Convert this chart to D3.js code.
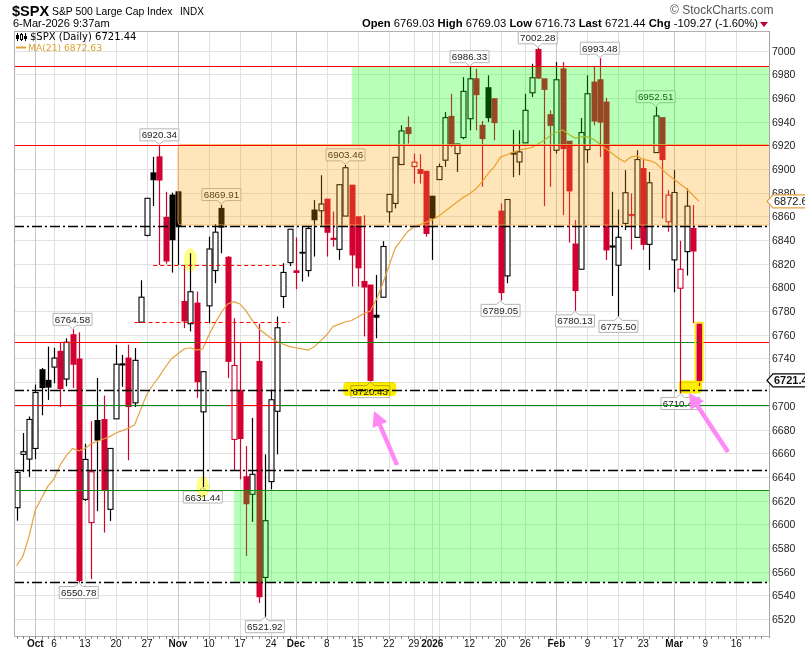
<!DOCTYPE html>
<html><head><meta charset="utf-8">
<script src="https://cdn.jsdelivr.net/npm/d3@7"></script>
<style>
body{margin:0;background:#fff;}
svg{display:block;font-family:"Liberation Sans",Arial,sans-serif;}
</style></head><body>
<svg id="c" width="805" height="649"></svg>
<script>
// ---------------- DATA ----------------
const dates = ["2025-09-26","2025-09-29","2025-09-30","2025-10-01","2025-10-02","2025-10-03","2025-10-06","2025-10-07","2025-10-08","2025-10-09",
"2025-10-10","2025-10-13","2025-10-14","2025-10-15","2025-10-16","2025-10-17","2025-10-20","2025-10-21","2025-10-22","2025-10-23",
"2025-10-24","2025-10-27","2025-10-28","2025-10-29","2025-10-30","2025-10-31","2025-11-03","2025-11-04","2025-11-05","2025-11-06",
"2025-11-07","2025-11-10","2025-11-11","2025-11-12","2025-11-13","2025-11-14","2025-11-17","2025-11-18","2025-11-19","2025-11-20",
"2025-11-21","2025-11-24","2025-11-25","2025-11-26","2025-11-28","2025-12-01","2025-12-02","2025-12-03","2025-12-04","2025-12-05",
"2025-12-08","2025-12-09","2025-12-10","2025-12-11","2025-12-12","2025-12-15","2025-12-16","2025-12-17","2025-12-18","2025-12-19",
"2025-12-22","2025-12-23","2025-12-24","2025-12-26","2025-12-29","2025-12-30","2025-12-31","2026-01-02","2026-01-05","2026-01-06",
"2026-01-07","2026-01-08","2026-01-09","2026-01-12","2026-01-13","2026-01-14","2026-01-15","2026-01-16","2026-01-20","2026-01-21",
"2026-01-22","2026-01-23","2026-01-26","2026-01-27","2026-01-28","2026-01-29","2026-01-30","2026-02-02","2026-02-03","2026-02-04",
"2026-02-05","2026-02-06","2026-02-09","2026-02-10","2026-02-11","2026-02-12","2026-02-13","2026-02-17","2026-02-18","2026-02-19",
"2026-02-20","2026-02-23","2026-02-24","2026-02-25","2026-02-26","2026-02-27","2026-03-02","2026-03-03","2026-03-04","2026-03-05",
"2026-03-06"];
const futureDates = ["2026-03-09","2026-03-10","2026-03-11","2026-03-12","2026-03-13","2026-03-16","2026-03-17","2026-03-18","2026-03-19","2026-03-20"];

const opens = [6614,6659,6655,6664,6730.5,6721.5,6732.7,6746,6722.6,6760,
6739.5,6621,6601.4,6687.6,6688.4,6612.6,6689,6734.5,6740.3,6702.5,
6770.6,6843.9,6896.7,6910.2,6859.1,6877.9,6880.7,6788.1,6769.3,6786.7,
6694.9,6784.4,6814.2,6866.7,6825.4,6671.6,6713.1,6640.1,6625.3,6737.5,
6555.1,6636,6695.4,6792.3,6820.9,6814,6829.6,6814.2,6865.3,6864.7,
6874.5,6841.5,6832.1,6860.2,6886.3,6859.6,6805,6802,6776.5,6791.7,
6863.8,6870.9,6903.7,6934.9,6902,6899.5,6898,6877,6891,6907.4,
6944.4,6913,6926.5,6942.4,6976.1,6936.8,6968.6,6959.3,6864.4,6809.7,
6913.5,6905.9,6922,6964.3,7000.8,6976.1,6945.8,6915.8,6984.5,6923.4,
6836.6,6815.3,6916.3,6973.3,6975.3,6956.5,6835,6818.7,6854,6861.5,
6842.2,6900.3,6836.3,6913.8,6943.3,6855.4,6823.2,6799.3,6830.2,6849.8,
6769.03];
const highs = [6645,6677,6691,6718,6732,6750,6749,6753.5,6757,6764.58,
6762,6668,6687,6723.5,6708.6,6664,6751.6,6743,6751.6,6748.8,
6806,6875.2,6910.2,6920.34,6880.7,6880,6881,6818.9,6828.8,6796.5,
6729,6842.8,6853.5,6869.91,6826.5,6774,6753,6666,6689.8,6769.3,
6659,6713.7,6775.4,6820.4,6849.1,6842.2,6851.8,6851.2,6873.7,6894.7,
6874.5,6864,6886.7,6903.46,6886.3,6859.6,6861,6802,6810.5,6839,
6878.5,6910,6936.8,6944.4,6913,6912.4,6898,6877,6904.6,6948,
6963.5,6921.4,6977.5,6986.33,6984.5,6940.5,6979,6959.3,6870.9,6874.2,
6933,6932.6,6963.5,6988.8,7002.28,6976.1,6949.5,6990.2,6990.2,6923.4,
6856.8,6943,6979,6986.5,6993.48,6960,6880.7,6865.8,6899,6879.3,
6915.8,6908.8,6897.5,6952.51,6943.3,6882,6899,6839.4,6883.5,6869.5,
6769.03];
const lows = [6603,6644,6640,6655,6692,6705,6719,6699,6716.5,6715,
6550.78,6619.6,6553.7,6611,6593,6602.8,6689,6716,6654,6699,
6770.6,6843,6868.6,6818.9,6820,6812.5,6819,6765.6,6762.8,6706.7,
6631.44,6769.8,6803.5,6828.8,6723.5,6645,6637.9,6573.3,6602,6533.5,
6521.92,6629.5,6659,6782.5,6818,6798.5,6804.9,6809.1,6826,6851.2,
6826,6834.4,6823.2,6860.2,6800.7,6800.7,6758.6,6720.43,6757,6791.7,
6854.6,6866.7,6903.7,6921.4,6887.7,6887.7,6842.8,6823.2,6891,6901.7,
6918.6,6897.5,6925,6932.6,6932.6,6884.9,6939.6,6924.2,6789.05,6803.5,
6893,6894.7,6922,6960.7,6976,6868.6,6884.9,6913,6861,6837.8,
6780.13,6815.3,6905.1,6936.8,6910,6823.2,6792.8,6775.5,6848.4,6832,
6842.2,6831.6,6814.7,6913.8,6858,6847,6795.9,6710.41,6810,6769.8,
6716.73];
const closes = [6643.7,6661.2,6688.5,6711.2,6715.4,6715.8,6740.3,6714.6,6753.7,6735.1,
6552.5,6654.7,6644.3,6671.1,6629.1,6664.0,6735.1,6735.4,6699.4,6738.4,
6791.7,6875.2,6890.9,6890.6,6822.3,6840.2,6852.0,6771.6,6796.3,6720.3,
6728.8,6832.4,6846.6,6850.9,6737.5,6734.1,6672.4,6617.3,6642.2,6538.8,
6603.0,6705.1,6765.9,6812.6,6849.1,6812.6,6829.4,6849.7,6857.1,6870.4,
6846.5,6840.5,6886.7,6901.0,6827.4,6816.5,6800.3,6721.4,6774.8,6834.5,
6878.5,6909.8,6932.1,6929.9,6905.7,6896.2,6845.5,6858.5,6902,6943.3,
6920,6921,6965.5,6976.1,6962.7,6925.6,6943.3,6939.1,6795.6,6874.2,
6912.5,6914.4,6949.5,6977,6976.7,6967.2,6936.8,6975.3,6917.2,6881.5,
6797.3,6930.7,6963.5,6940.5,6939.5,6831.6,6834,6842.3,6879.9,6860.8,
6907.9,6836.3,6888.3,6944.7,6907.9,6877.9,6880.1,6815.3,6868.6,6830.71,
6721.44];
const ma21 = [6565,6573,6590,6612,6622,6632,6638,6650,6658,6664,
6662,6664,6668,6670,6672,6674,6677,6679,6681,6684,
6697,6710,6718,6725,6733,6740,6744,6748,6749,6747,
6748,6760,6770,6779,6786,6788,6786,6780,6772,6765,
6761,6757,6754,6752,6750,6749,6748,6747,6750,6755,
6760,6767,6769,6771,6772,6775,6778,6780,6790,6803,
6818,6833,6840,6847,6851,6853,6855,6857,6860,6864,
6868,6872,6876,6879,6883,6889,6896,6902,6910,6912,
6914,6916,6917,6918,6921,6924,6928,6931,6933,6929,
6926,6927,6927,6925,6921,6917,6913,6909,6906,6910,
6911,6908,6907,6905,6900,6895,6891,6887,6883,6878,
6872.63];

const tickDates  = ["2025-10-01","2025-10-06","2025-10-13","2025-10-20","2025-10-27","2025-11-03","2025-11-10","2025-11-17","2025-11-24","2025-12-01","2025-12-08","2025-12-15","2025-12-22","2025-12-29","2026-01-02","2026-01-12","2026-01-20","2026-01-26","2026-02-02","2026-02-09","2026-02-17","2026-02-23","2026-03-02","2026-03-09","2026-03-16"];
const tickLabels = ["Oct","6","13","20","27","Nov","10","17","24","Dec","8","15","22","29","2026","12","20","26","Feb","9","17","23","Mar","9","16"];
const yTicks = d3.range(6520, 7001, 20);

// annotated highs / lows (callouts)
const calloutDates = ["2025-10-09","2025-10-29","2025-11-12","2025-12-11","2026-01-12","2026-01-28","2026-02-11","2026-02-25",
                      "2025-10-10","2025-11-07","2025-11-21","2025-12-17","2026-01-20","2026-02-05","2026-02-17","2026-03-03"];
const calloutSide  = ["h","h","h","h","h","h","h","h","l","l","l","l","l","l","l","l"];

// drawn zones & levels
const zoneStart  = ["2025-11-03","2025-12-12","2025-11-14"];
const zoneTop    = [6920.6, 6986.5, 6628.6];
const zoneBottom = [6852.6, 6920.6, 6551.0];
const redLevels      = [6986.5, 6920.6];
const dashDotLevels  = [6851.5, 6713.7, 6645.5, 6551.0];

const last = {open:6769.03, high:6769.03, low:6716.73, last:6721.44, chg:"-109.27 (-1.60%)"};

// ---------------- SETUP ----------------
const svg = d3.select("#c");
const L=14, R=769, T=31, B=636;
const RED="#d10030", BLK="#000";
const allDates = dates.concat(futureDates);
const x = d3.scalePoint().domain(allDates).range([16.7, 761.1]);
const y = d3.scaleLinear().domain([6520,7000]).range([619, 50.5]);
const idx = d => dates.indexOf(d);

svg.append("defs").append("clipPath").attr("id","plot")
  .append("rect").attr("x",L).attr("y",T).attr("width",R-L).attr("height",B-T);

svg.append("rect").attr("x",L).attr("y",T).attr("width",R-L).attr("height",B-T).attr("fill","#fff");

const g = svg.append("g").attr("clip-path","url(#plot)");

// grid
g.selectAll(".hg").data(yTicks).join("line")
  .attr("x1",L).attr("x2",R).attr("y1",d=>Math.round(y(d))+0.5).attr("y2",d=>Math.round(y(d))+0.5)
  .attr("stroke","#e2e2e2");
const vgrid = tickDates.concat(["2026-01-05"]);
g.selectAll(".vg").data(vgrid).join("line")
  .attr("x1",d=>Math.round(x(d))+0.5).attr("x2",d=>Math.round(x(d))+0.5).attr("y1",T).attr("y2",B)
  .attr("stroke",(d,i)=> (i<tickLabels.length && isNaN(+tickLabels[i])) ? "#c8c8c8" : "#e0e0e0");

// candles
const cdata = dates.map((d,i)=>({d,o:opens[i],h:highs[i],l:lows[i],c:closes[i],pc:i>0?closes[i-1]:-Infinity}));
const cg = g.append("g");
cdata.forEach(k=>{
  const col = k.c >= k.pc ? BLK : RED;
  const cx = Math.round(x(k.d))+0.5;
  cg.append("line").attr("x1",cx).attr("x2",cx).attr("y1",y(k.h)).attr("y2",y(k.l)).attr("stroke",col).attr("stroke-width",1.2);
  const top = y(Math.max(k.o,k.c)), bot = y(Math.min(k.o,k.c));
  if (k.c > k.o) {
    cg.append("rect").attr("x",cx-2.5).attr("y",top).attr("width",5).attr("height",Math.max(1,bot-top))
      .attr("fill","#fff").attr("stroke",col).attr("stroke-width",1.1);
  } else {
    cg.append("rect").attr("x",cx-3).attr("y",top-0.5).attr("width",6).attr("height",Math.max(1.8,bot-top+1))
      .attr("fill",col);
  }
});

// MA line
g.append("path").datum(ma21).attr("fill","none").attr("stroke","#e4a23c").attr("stroke-width",1.2)
  .attr("d", d3.line().x((v,i)=>x(dates[i])).y(v=>y(v)));

// callouts
const cog = g.append("g").attr("font-size","9.8px").attr("fill","#222");
calloutDates.forEach((d,j)=>{
  const i = idx(d), cx = x(d);
  const hi = calloutSide[j]==="h";
  const v = hi ? highs[i] : lows[i];
  const txt = v.toFixed(2);
  const w = 39, h = 12;
  const x0 = cx - w/2, x1 = cx + w/2;
  let p;
  if (hi) {
    const yb = y(v) - 4, yt = yb - h;
    p = `M${x0},${yt}H${x1}V${yb}H${cx+4}L${cx},${yb+3.5}L${cx-4},${yb}H${x0}Z`;
    cog.append("path").attr("d",p).attr("fill","#fff").attr("fill-opacity",0.9).attr("stroke","#b5b5b5");
    cog.append("text").attr("x",cx).attr("y",yb-2.5).attr("text-anchor","middle").text(txt);
  } else {
    const yt = y(v) + 4, yb = yt + h;
    p = `M${x0},${yt}H${cx-4}L${cx},${yt-3.5}L${cx+4},${yt}H${x1}V${yb}H${x0}Z`;
    cog.append("path").attr("d",p).attr("fill","#fff").attr("fill-opacity",0.9).attr("stroke","#b5b5b5");
    cog.append("text").attr("x",cx).attr("y",yb-2.5).attr("text-anchor","middle").text(txt);
  }
});

// zones
const zoneFill = ["#ffa000","#00ff00","#00ff00"];
const zoneOp = [0.27,0.28,0.28];
zoneStart.forEach((d,i)=>{
  g.append("rect").attr("x",x(d)).attr("y",y(zoneTop[i])).attr("width",R-x(d)+2)
    .attr("height",y(zoneBottom[i])-y(zoneTop[i])).attr("fill",zoneFill[i]).attr("fill-opacity",zoneOp[i])
    .attr("stroke",i===0?"#f0b060":"none").attr("stroke-opacity",0.8).attr("rx",i===0?3:0);
});

// level lines
function hline(p, xa, xb, col, dash, w){
  g.append("line").attr("x1",xa).attr("x2",xb).attr("y1",Math.round(y(p))+0.5).attr("y2",Math.round(y(p))+0.5)
    .attr("stroke",col).attr("stroke-width",w||1.2).attr("stroke-dasharray",dash||null);
}
const GRN="#118811";
redLevels.forEach(p=>hline(p,L,R,"#ff0000"));
dashDotLevels.forEach(p=>hline(p,L,R,"#000","10,3,2,3",1.3));
hline(6818.5, x("2025-10-28"), x("2025-11-26"), "#ff0000", "4,3");
hline(6770.7, x("2025-10-23"), x("2025-11-28"), "#ff0000", "4,3");
hline(6754, L, x("2025-10-24"), "#ff0000");
hline(6754, x("2025-10-24"), x("2026-03-06"), GRN);
hline(6754, x("2025-11-06"), x("2025-11-25"), "#ff0000");
hline(6754, x("2026-03-06"), R, "#ff0000");
hline(6701, L, x("2025-10-10"), "#ff0000");
hline(6701, x("2025-10-10"), R, GRN);
hline(6701, x("2025-11-13"), x("2025-11-25"), "#ff0000");
hline(6628.6, L, R, GRN);

// yellow highlights
const hl = g.append("g").style("mix-blend-mode","multiply");
hl.append("ellipse").attr("cx",x("2025-11-05")).attr("cy",y(6823)).attr("rx",6.5).attr("ry",12).attr("fill","#ffff70").attr("opacity",0.85);
hl.append("ellipse").attr("cx",x("2025-11-07")).attr("cy",y(lows[30])).attr("rx",6.5).attr("ry",11).attr("fill","#ffff70").attr("opacity",0.85);
const d17 = x("2025-12-17");
hl.append("rect").attr("x",d17-27).attr("y",y(lows[57])+0.5).attr("width",53).attr("height",14).attr("rx",4).attr("fill","#ffee00");
const m3 = x("2026-03-03"), m6 = x("2026-03-06");
hl.append("rect").attr("x",m3-1.5).attr("y",y(closes[110])).attr("width",m6-m3+4.5).attr("height",13).attr("rx",4).attr("fill","#ffee00");
g.append("rect").attr("x",m6-3.8).attr("y",y(opens[110])-1.5).attr("width",7.6).attr("height",y(closes[110])-y(opens[110])+3)
  .attr("fill","none").attr("stroke","#ffe800").attr("stroke-width",1.5);

// pink arrows
function arrow(tx,ty,px,py){
  const dx=px-tx, dy=py-ty, len=Math.hypot(dx,dy), ux=dx/len, uy=dy/len, nx=-uy, ny=ux;
  const sw=2.2, hw=8, hlen=15;
  const bx=px-ux*hlen, by=py-uy*hlen;
  const pts=[[tx+nx*sw,ty+ny*sw],[bx+nx*sw,by+ny*sw],[bx+nx*hw,by+ny*hw],[px,py],[bx-nx*hw,by-ny*hw],[bx-nx*sw,by-ny*sw],[tx-nx*sw,ty-ny*sw]];
  svg.append("polygon").attr("points",pts.map(p=>p.join(",")).join(" ")).attr("fill","#ff88f4");
}
arrow(397,465,374,411);
arrow(728,452,689,393);

// plot border
svg.append("rect").attr("x",L+0.5).attr("y",T+0.5).attr("width",R-L).attr("height",B-T)
  .attr("fill","none").attr("stroke","#b0b0b0");
svg.append("line").attr("x1",R+0.5).attr("x2",R+0.5).attr("y1",T).attr("y2",B+3).attr("stroke","#999").attr("stroke-dasharray","1,1");

// day ticks
svg.selectAll(".dt").data(allDates).join("line")
  .attr("x1",d=>Math.round(x(d))+0.5).attr("x2",d=>Math.round(x(d))+0.5).attr("y1",B).attr("y2",B+3).attr("stroke","#888");

// y axis labels
svg.append("g").attr("font-size","10.5px").attr("fill","#222").selectAll("text").data(yTicks).join("text")
  .attr("x",772).attr("y",d=>y(d)+4).text(d=>d);

// x axis labels
svg.append("g").attr("font-size","10px").attr("fill","#111").selectAll("text").data(tickDates).join("text")
  .attr("x",d=>x(d)).attr("y",647).attr("text-anchor","middle")
  .attr("font-weight",(d,i)=>isNaN(+tickLabels[i]) || tickLabels[i]==="2026" ? "bold":"normal")
  .text((d,i)=>tickLabels[i]);

// right tags (drawn over the axis labels, as in the original)
function tag(v, txt, stroke, bold){
  const yc=y(v);
  svg.append("path").attr("d",`M767,${yc}L773,${yc-6.5}H806V${yc+6.5}H773Z`).attr("fill","#fff").attr("stroke",stroke).attr("stroke-width",1.2);
  svg.append("text").attr("x",774).attr("y",yc+4).attr("font-size","11px").attr("font-weight",bold?"bold":"normal").attr("fill","#111").text(txt);
}
tag(ma21[110], ma21[110].toFixed(2), "#e4a23c", false);
tag(last.last, last.last.toFixed(2), "#000", true);

// header
svg.append("text").attr("x",12).attr("y",15.5).attr("font-size","14.5px").attr("font-weight","bold").text("$SPX");
svg.append("text").attr("x",52).attr("y",15).attr("font-size","10.4px").text("S&P 500 Large Cap Index");
svg.append("text").attr("x",180).attr("y",15).attr("font-size","10px").text("INDX");
svg.append("text").attr("x",13).attr("y",27).attr("font-size","11px").text("6-Mar-2026 9:37am");
svg.append("text").attr("x",670).attr("y",14).attr("font-size","12px").attr("fill","#555").text("\u00A9 StockCharts.com");
const ht = svg.append("text").attr("x",362).attr("y",26.5).attr("font-size","12px");
[["Open ",1],[last.open.toFixed(2)+" ",0],["High ",1],[last.high.toFixed(2)+" ",0],["Low ",1],[last.low.toFixed(2)+" ",0],
 ["Last ",1],[last.last.toFixed(2)+" ",0],["Chg ",1],[last.chg,0]].forEach(([t,b])=>{
  ht.append("tspan").attr("font-weight",b?"bold":"normal").text(t);
});
const natural = ht.node().getComputedTextLength();
if (natural > 0) ht.attr("font-size", (12*396/natural).toFixed(2)+"px");
svg.append("path").attr("d","M760,22H768L764,27Z").attr("fill","#c00030");

// legend
const lg = svg.append("g");
lg.append("line").attr("x1",17.5).attr("x2",17.5).attr("y1",33).attr("y2",41).attr("stroke","#000");
lg.append("rect").attr("x",16).attr("y",35).attr("width",3).attr("height",4).attr("fill","#000");
lg.append("line").attr("x1",21.5).attr("x2",21.5).attr("y1",33).attr("y2",41).attr("stroke","#000");
lg.append("rect").attr("x",20.5).attr("y",34.5).attr("width",2).attr("height",5).attr("fill","#fff").attr("stroke","#000");
lg.append("line").attr("x1",25.5).attr("x2",25.5).attr("y1",33).attr("y2",41).attr("stroke","#000");
lg.append("rect").attr("x",24).attr("y",36).attr("width",3).attr("height",3).attr("fill","#000");
lg.append("text").attr("x",30).attr("y",39.5).attr("font-family","DejaVu Sans").attr("font-size","10px").text("$SPX (Daily) 6721.44");
lg.append("line").attr("x1",16).attr("x2",26).attr("y1",47.5).attr("y2",47.5).attr("stroke","#e4a23c").attr("stroke-width",2);
lg.append("text").attr("x",28).attr("y",51).attr("font-family","DejaVu Sans").attr("font-size","9.2px").attr("fill","#e0a030").text("MA(21) 6872.63");
</script>
</body></html>
